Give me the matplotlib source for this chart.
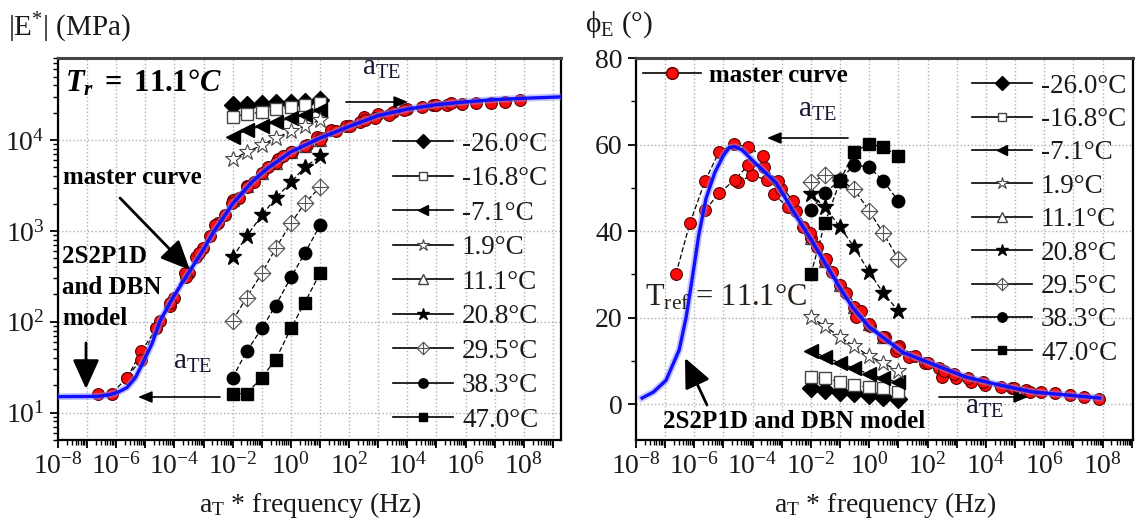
import numpy as np
import matplotlib
matplotlib.use("Agg")
import matplotlib.pyplot as plt
from matplotlib.lines import Line2D
from matplotlib.path import Path
from matplotlib.patches import FancyArrowPatch
from matplotlib.ticker import LogLocator, MultipleLocator, FuncFormatter, NullFormatter

plt.rcParams["font.family"] = ["Liberation Serif", "DejaVu Serif"]
plt.rcParams["mathtext.fontset"] = "custom"
plt.rcParams["mathtext.rm"] = "Liberation Serif"
plt.rcParams["mathtext.it"] = "Liberation Serif:italic"
plt.rcParams["mathtext.bf"] = "Liberation Serif:bold"
plt.rcParams["mathtext.bfit"] = "Liberation Serif:bold:italic"

# data
# ----------
temps = ["-26.0°C", "-16.8°C", "-7.1°C", "1.9°C", "11.1°C",
         "20.8°C", "29.5°C", "38.3°C", "47.0°C"]
freq = [0.01, 0.03, 0.1, 0.3, 1.0, 3.0, 10.0]           # Hz
log_aT = [6.88, 4.5, 2.9, 1.55, 0.0, -1.27, -2.5, -3.62, -4.63]

# |E*| (MPa) per isotherm
E_iso = [
    [24300, 24300, 24900, 25500, 25500, 26200, 27500],
    [17900, 19300, 20300, 21900, 23100, 24300, 25500],
    [10800, 12900, 14200, 15700, 17400, 18800, 21400],
    [6150, 7360, 8790, 10500, 12500, 14200, 16600],
    [2170, 3090, 4370, 5620, 7410, 8710, 10000],
    [512, 871, 1485, 2290, 3430, 5020, 6640],
    [103, 185, 341, 642, 1213, 2015, 3030],
    [24.3, 47.1, 84.4, 151, 308, 566, 1153],
    [16.2, 16.2, 24.3, 38.4, 84.4, 163, 341],
]
# phase angle (deg) per isotherm
phi_iso = [
    [3.7, 3.2, 2.8, 2.5, 2.1, 1.6, 1.2],
    [6.2, 6.0, 5.1, 4.4, 3.9, 3.7, 2.8],
    [12.3, 10.9, 9.5, 8.3, 6.9, 6.0, 5.1],
    [20.1, 18.0, 15.5, 13.4, 11.1, 9.5, 7.6],
    [38.5, 33.0, 27.5, 22.5, 18.5, 15.5, 13.0],
    [48.5, 45.5, 40.9, 36.3, 30.5, 25.7, 21.5],
    [51.3, 52.9, 51.8, 49.7, 44.6, 39.5, 33.5],
    [44.9, 48.8, 51.8, 55.3, 54.8, 51.6, 46.9],
    [30.1, 41.8, 51.6, 58.3, 60.1, 59.4, 57.3],
]

# 2S2P1D / DBN model curves
model_E_logf = [-8.0, -6.6, -6.2, -5.9, -5.63, -5.35, -5.08, -4.77, -4.49, -4.05,
                -3.46, -3.02, -2.67, -2.0, -1.3, -0.8, 0.0, 1.0, 2.0, 3.0,
                4.0, 5.0, 6.0, 7.0, 8.0, 9.3]
model_E = [15, 15.1, 15.8, 17, 18.9, 24, 35.6, 57.5, 103, 185,
           368, 611, 955, 1995, 3550, 4900, 7410, 10500, 14100, 18600,
           21900, 24500, 26300, 27900, 28800, 29900]
model_phi_logf = [-7.79, -7.4, -6.97, -6.52, -6.28, -6.05, -5.85, -5.6, -5.3, -5.0,
                  -4.8, -4.6, -4.36, -3.77, -3.19, -2.64, -2.05, -1.02, -0.58, 0.0,
                  0.59, 1.14, 2.0, 3.34, 4.47, 5.6, 6.78, 7.9]
model_phi = [1.4, 2.8, 5.5, 12.5, 20.1, 30.0, 39.0, 47.5, 53.5, 57.5,
             59.3, 59.5, 58.7, 54.8, 51.1, 44.9, 38.6, 27.0, 22.4, 17.8,
             14.8, 12.0, 9.7, 6.2, 4.4, 2.8, 2.1, 1.4]

# marker styles
# ----------
cross_diamond = Path([(0, 1), (1, 0), (0, -1), (-1, 0), (0, 1),
                      (0, 1), (0, -1), (-1, 0), (1, 0)],
                     [Path.MOVETO, Path.LINETO, Path.LINETO, Path.LINETO, Path.CLOSEPOLY,
                      Path.MOVETO, Path.LINETO, Path.MOVETO, Path.LINETO])
styles = [
    dict(marker="D", ms=9, mfc="black", mec="black"),
    dict(marker="s", ms=8, mfc="white", mec="#444444"),
    dict(marker="<", ms=10, mfc="black", mec="black"),
    dict(marker="*", ms=12, mfc="white", mec="#444444", mew=0.8),
    dict(marker="^", ms=9, mfc="white", mec="#444444"),
    dict(marker="*", ms=12, mfc="black", mec="black"),
    dict(marker=cross_diamond, ms=12, mfc="white", mec="#555555", mew=0.8),
    dict(marker="o", ms=9, mfc="black", mec="black"),
    dict(marker="s", ms=8, mfc="black", mec="black"),
]
dash = (0, (4, 2))
fs_tick = 20
text_col = "#1a1a1a"

W, H = 1137, 530
fig = plt.figure(figsize=(W / 100, H / 100), dpi=100)


def fpos(x, y):
    # picture pixels (top-left origin) -> figure fraction
    return x / W, 1 - y / H


ax1 = fig.add_axes([58 / W, 90 / H, 503 / W, 382 / H])
ax2 = fig.add_axes([636 / W, 90 / H, 497 / W, 382 / H])


def even_decades(v, pos):
    e = int(round(np.log10(v)))
    return r"$\mathdefault{10^{%d}}$" % e if e % 2 == 0 else ""


for ax in (ax1, ax2):
    ax.set_xscale("log")
    ax.xaxis.set_major_locator(LogLocator(base=10, numticks=40))
    ax.xaxis.set_minor_locator(LogLocator(base=10, subs=np.arange(2, 10), numticks=40))
    ax.xaxis.set_major_formatter(FuncFormatter(even_decades))
    ax.xaxis.set_minor_formatter(NullFormatter())
    ax.grid(True, which="major", color="#b0b0b0", ls=":", lw=1.0)
    ax.tick_params(which="major", direction="out", length=6, width=1.3,
                   labelsize=fs_tick, colors="black", labelcolor=text_col)
    ax.tick_params(which="minor", direction="out", length=3.5, width=1.0)
    ax.tick_params(top=False, right=False)
    for side in ("left", "bottom", "right"):
        ax.spines[side].set_linewidth(1.6)
    ax.spines["top"].set_linewidth(2.2)
    ax.spines["top"].set_color("#444444")
    ax.set_axisbelow(True)

# left plot: dynamic modulus
# ----------
ax1.set_yscale("log")
ax1.yaxis.set_major_locator(LogLocator(base=10, numticks=20))
ax1.yaxis.set_minor_locator(LogLocator(base=10, subs=np.arange(2, 10), numticks=20))
ax1.yaxis.set_minor_formatter(NullFormatter())
ax1.set_xlim(1e-8, 1.9e9)
ax1.set_ylim(5, 8e4)

for i in range(len(temps)):
    ax1.plot(freq, E_iso[i], color="black", lw=0.9, ls=dash, zorder=3, **styles[i])
for i in range(len(temps)):
    red_f = np.array(freq) * 10 ** log_aT[i]
    ax1.plot(red_f, E_iso[i], color="black", lw=0.9, ls=dash, zorder=4)
    ax1.plot(red_f, E_iso[i], ls="none", marker="o", ms=8.5, mfc="#ff0a0a",
             mec="#5a0000", mew=0.8, zorder=5)
mE_f = 10 ** np.array(model_E_logf)
ax1.plot(mE_f, model_E, color="#8a8aff", lw=5, alpha=0.5, zorder=6)
ax1.plot(mE_f, model_E, color="#1010ff", lw=2.4, zorder=7)

handles = [Line2D([], [], color="black", lw=1.2, **styles[i]) for i in range(len(temps))]
ax1.legend(handles, temps, loc="upper left", bbox_to_anchor=((393 - 58) / 503, 0.807),
           frameon=False, fontsize=19.5, handlelength=2.2, handletextpad=0.35,
           labelspacing=0.35, borderpad=0, borderaxespad=0, markerscale=0.75,
           labelcolor=text_col)

# right plot: phase angle
# ----------
ax2.set_xlim(1e-8, 1.1e9)
ax2.set_ylim(-8.3, 80)
ax2.yaxis.set_major_locator(MultipleLocator(20))
ax2.yaxis.set_minor_locator(MultipleLocator(10))

for i in range(len(temps)):
    ax2.plot(freq, phi_iso[i], color="black", lw=0.9, ls=dash, zorder=3, **styles[i])
for i in range(len(temps)):
    red_f = np.array(freq) * 10 ** log_aT[i]
    ax2.plot(red_f, phi_iso[i], color="black", lw=0.9, ls=dash, zorder=4)
    ax2.plot(red_f, phi_iso[i], ls="none", marker="o", ms=8.5, mfc="#ff0a0a",
             mec="#5a0000", mew=0.8, zorder=5)
mp_f = 10 ** np.array(model_phi_logf)
ax2.plot(mp_f, model_phi, color="#8a8aff", lw=5, alpha=0.5, zorder=6)
ax2.plot(mp_f, model_phi, color="#1010ff", lw=2.4, zorder=7)

master_handle = Line2D([], [], color="black", lw=1.2, marker="o", ms=8.5,
                       mfc="#ff0a0a", mec="#5a0000")
leg_m = ax2.legend([master_handle], ["master curve"], loc="upper left",
                   bbox_to_anchor=((643 - 636) / 497, 0.985), frameon=False,
                   prop={"weight": "bold", "size": 18}, handlelength=2.3,
                   handletextpad=0.35, borderpad=0, borderaxespad=0)
ax2.add_artist(leg_m)
ax2.legend(handles, temps, loc="upper left", bbox_to_anchor=((972 - 636) / 497, 0.959),
           frameon=False, fontsize=19.5, handlelength=2.2, handletextpad=0.35,
           labelspacing=0.31, borderpad=0, borderaxespad=0, markerscale=0.75,
           labelcolor=text_col)

# labels and annotations
# ----------
fig.text(*fpos(8, 28), r"|E$^{*}$| (MPa)", fontsize=21, va="center", ha="left", color=text_col)
fig.text(*fpos(585, 25), r"ϕ$_{\mathrm{E}}$ (°)", fontsize=21, va="center", ha="left", color=text_col)
fig.text(*fpos(310, 505), r"a$_{\mathrm{T}}$ * frequency (Hz)", fontsize=20,
         va="center", ha="center", color=text_col)
fig.text(*fpos(885, 505), r"a$_{\mathrm{T}}$ * frequency (Hz)", fontsize=20,
         va="center", ha="center", color=text_col)

fig.text(*fpos(65, 83), r"$\mathbfit{T_r}\ \mathbf{=\ 11.1°}\mathbfit{C}$", fontsize=22,
         va="center", ha="left", color="black")
fig.text(*fpos(63, 178), "master curve", fontsize=18, fontweight="bold",
         va="center", ha="left")
fig.text(*fpos(62, 245), "2S2P1D\nand DBN\nmodel", fontsize=18, fontweight="bold",
         va="top", ha="left", linespacing=1.45)
fig.text(*fpos(645, 305), r"T$_{\mathrm{ref}}$ = 11.1°C", fontsize=22,
         va="baseline", ha="left", color="#2a2018")
fig.text(*fpos(663, 421), "2S2P1D and DBN model", fontsize=18, fontweight="bold",
         va="center", ha="left")

for x, y in [(362, 68), (173, 362), (798, 110), (965, 407)]:
    fig.text(*fpos(x, y), r"a$_{\mathrm{TE}}$", fontsize=21, va="center", ha="left",
             color="#151530")

thin = dict(arrowstyle="-|>,head_length=0.6,head_width=0.25", color="black", lw=1.2,
            mutation_scale=14, shrinkA=0, shrinkB=0)
for (x0, y0), (x1, y1) in [((346, 102), (408, 102)), ((220, 397), (138, 397)),
                           ((848, 138), (767, 138)), ((939, 397), (1028, 397))]:
    fig.add_artist(FancyArrowPatch(fpos(x0, y0), fpos(x1, y1),
                                   transform=fig.transFigure, **thin))
thick = dict(arrowstyle="-|>,head_length=1.0,head_width=0.45", color="black", lw=2,
             mutation_scale=18, shrinkA=0, shrinkB=0)
for (x0, y0), (x1, y1) in [((120, 198), (190, 270)), ((86, 343), (86, 389)),
                           ((707, 405), (685, 358))]:
    fig.add_artist(FancyArrowPatch(fpos(x0, y0), fpos(x1, y1),
                                   transform=fig.transFigure, **thick))

fig.savefig("out.png", dpi=100)
